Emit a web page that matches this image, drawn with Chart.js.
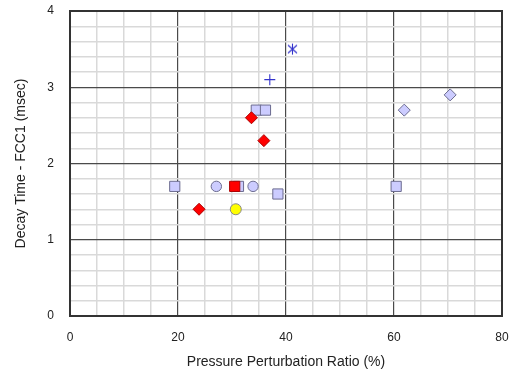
<!DOCTYPE html>
<html>
<head>
<meta charset="utf-8">
<script src="https://cdn.jsdelivr.net/npm/chart.js@4/dist/chart.umd.min.js"></script>
<style>
    html, body { margin: 0; padding: 0; background: #fff; }
    #wrap { width: 511px; height: 373px; }
</style>
</head>
<body>
<div id="wrap"><canvas id="chart" width="511" height="373"></canvas></div>
<script>
// data
const xTickLabels = [0, 20, 40, 60, 80];
const yTickLabels = [0, 1, 2, 3, 4];

const lavSquares  = [[34.5, 2.7], [36.2, 2.7], [19.4, 1.7], [31.2, 1.7], [38.5, 1.6], [60.4, 1.7]];
const lavCircles  = [[27.1, 1.7], [33.9, 1.7]];
const lavDiamonds = [[61.9, 2.7], [70.4, 2.9]];
const redDiamonds = [[33.6, 2.6], [35.9, 2.3], [23.9, 1.4]];
const redSquares  = [[30.5, 1.7]];
const yellowCircles = [[30.7, 1.4]];
const bluePlus    = [[37.0, 3.1]];
const blueStar    = [[41.2, 3.5]];

const toPts = arr => arr.map(p => ({ x: p[0], y: p[1] }));

// X with a vertical stroke, like the reference's asterisk
function makeStar(color) {
    const c = document.createElement('canvas');
    c.width = 13; c.height = 13;
    const g = c.getContext('2d');
    g.strokeStyle = color;
    g.lineWidth = 1.1;
    g.beginPath();
    g.moveTo(2, 2.5); g.lineTo(11, 10.5);
    g.moveTo(11, 2.5); g.lineTo(2, 10.5);
    g.moveTo(6.5, 1); g.lineTo(6.5, 12);
    g.stroke();
    return c;
}

const isMajor = (v, step) => Math.abs(v / step - Math.round(v / step)) < 1e-6;

const frame = {
    id: 'frame',
    afterDraw(chart) {
        const a = chart.chartArea;
        const ctx = chart.ctx;
        ctx.save();
        ctx.strokeStyle = '#333';
        ctx.lineWidth = 2;
        ctx.strokeRect(a.left, a.top, a.right - a.left, a.bottom - a.top);
        ctx.restore();
    }
};

const lav = '#ccccff', lavBorder = '#6b6b8f';
const tickFont = { family: 'Liberation Sans, Arial, sans-serif', size: 12 };
const titleFont = { family: 'Liberation Sans, Arial, sans-serif', size: 14 };

// lower order = drawn on top
new Chart(document.getElementById('chart'), {
    type: 'scatter',
    data: {
        datasets: [
            { data: toPts(lavSquares), order: 8, pointStyle: 'rect', pointRadius: 7.2, backgroundColor: lav, borderColor: lavBorder, borderWidth: 1 },
            { data: toPts(lavCircles), order: 7, pointStyle: 'circle', pointRadius: 5.2, backgroundColor: lav, borderColor: lavBorder, borderWidth: 1 },
            { data: toPts(lavDiamonds), order: 6, pointStyle: 'rectRot', pointRadius: 6, backgroundColor: lav, borderColor: lavBorder, borderWidth: 1 },
            { data: toPts(redDiamonds), order: 2, pointStyle: 'rectRot', pointRadius: 6, backgroundColor: '#ff0000', borderColor: '#aa0000', borderWidth: 1 },
            { data: toPts(redSquares), order: 1, pointStyle: 'rect', pointRadius: 7.2, backgroundColor: '#ff0000', borderColor: '#aa0000', borderWidth: 1 },
            { data: toPts(yellowCircles), order: 3, pointStyle: 'circle', pointRadius: 5.5, backgroundColor: '#ffff00', borderColor: '#888', borderWidth: 1 },
            { data: toPts(bluePlus), order: 4, pointStyle: 'cross', pointRadius: 5.5, borderColor: '#3333cc', borderWidth: 1.1 },
            { data: toPts(blueStar), order: 5, pointStyle: makeStar('#3333cc') }
        ]
    },
    options: {
        responsive: false,
        animation: false,
        layout: { padding: { top: 11, right: 9, bottom: 2, left: 0 } },
        plugins: {
            legend: { display: false },
            tooltip: { enabled: false }
        },
        scales: {
            x: {
                type: 'linear',
                min: xTickLabels[0],
                max: xTickLabels[xTickLabels.length - 1],
                afterFit: s => {
                    s.height = 373 - 316 - 2;
                    s.paddingLeft = 0;
                    s.paddingRight = 0;
                },
                border: { display: false },
                grid: {
                    drawTicks: false,
                    color: c => isMajor(c.tick.value, 20) ? '#4a4a4a' : '#d9d9d9',
                    lineWidth: c => isMajor(c.tick.value, 20) ? 1.2 : 1.5
                },
                ticks: {
                    stepSize: 5,
                    autoSkip: false,
                    maxRotation: 0,
                    padding: 14,
                    color: '#222',
                    font: tickFont,
                    callback: v => isMajor(v, 20) ? String(Math.round(v)) : ''
                },
                title: {
                    display: true,
                    text: 'Pressure Perturbation Ratio (%)',
                    color: '#222',
                    font: titleFont,
                    padding: { top: 0, bottom: 0 }
                }
            },
            y: {
                type: 'linear',
                min: yTickLabels[0],
                max: yTickLabels[yTickLabels.length - 1],
                afterFit: s => {
                    s.width = 70;
                    s.paddingTop = 0;
                    s.paddingBottom = 0;
                },
                border: { display: false },
                grid: {
                    drawTicks: false,
                    color: c => isMajor(c.tick.value, 1) ? '#4a4a4a' : '#d9d9d9',
                    lineWidth: c => isMajor(c.tick.value, 1) ? 1.2 : 1.5
                },
                ticks: {
                    stepSize: 0.2,
                    autoSkip: false,
                    padding: 16,
                    color: '#222',
                    font: tickFont,
                    callback: v => isMajor(v, 1) ? String(Math.round(v)) : ''
                },
                title: {
                    display: true,
                    text: 'Decay Time - FCC1 (msec)',
                    color: '#222',
                    font: titleFont,
                    padding: { top: 13, bottom: 0 }
                }
            }
        }
    },
    plugins: [frame]
});
</script>
</body>
</html>
